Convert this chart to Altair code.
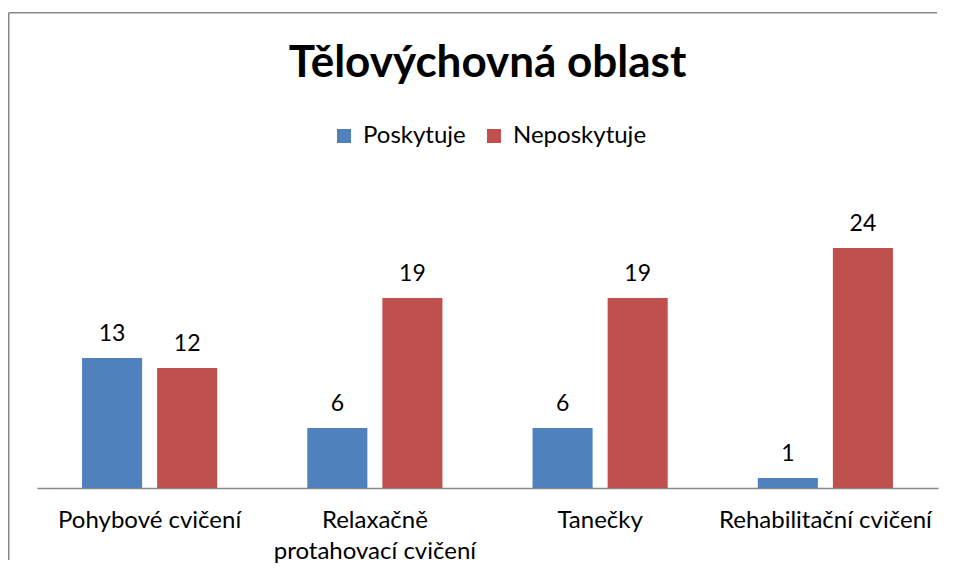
import altair as alt
import pandas as pd

categories = ["Pohybové cvičení", "Relaxačně protahovací cvičení", "Tanečky", "Rehabilitační cvičení"]
series = ["Poskytuje", "Neposkytuje"]
poskytuje = [13, 6, 6, 1]
neposkytuje = [12, 19, 19, 24]
colors = ["#4F81BD", "#C0504D"]

rows = []
for i, c in enumerate(categories):
    rows.append({"kat": c, "serie": series[0], "hodnota": poskytuje[i]})
    rows.append({"kat": c, "serie": series[1], "hodnota": neposkytuje[i]})
df = pd.DataFrame(rows)

FONT = "Lato"

x = alt.X(
    "kat:N",
    sort=categories,
    scale=alt.Scale(paddingInner=0, paddingOuter=0),
    axis=alt.Axis(
        title=None,
        labelAngle=0,
        labelFontSize=24,
        labelFont=FONT,
        labelColor="#000000",
        labelPadding=20,
        labelLineHeight=31,
        labelBaseline="top",
        labelLimit=400,
        ticks=False,
        grid=False,
        domainColor="#868686",
        domainWidth=1.5,
        labelExpr="datum.label == 'Relaxačně protahovací cvičení' ? ['Relaxačně', 'protahovací cvičení'] : datum.label",
    ),
)
xo = alt.XOffset(
    "serie:N",
    sort=series,
    scale=alt.Scale(paddingInner=0.2, paddingOuter=0.6),
)
y = alt.Y("hodnota:Q", scale=alt.Scale(domain=[0, 24], nice=False), axis=None)

bars = alt.Chart(df).mark_bar().encode(
    x=x,
    xOffset=xo,
    y=y,
    color=alt.Color(
        "serie:N",
        sort=series,
        scale=alt.Scale(domain=series, range=colors),
        legend=alt.Legend(
            title=None,
            orient="none",
            direction="horizontal",
            legendX=295,
            legendY=-124,
            symbolType="square",
            symbolSize=196,
            symbolStrokeWidth=0,
            labelFontSize=24,
            labelFont=FONT,
            labelColor="#000000",
            labelOffset=7,
            columnPadding=16,
        ),
    ),
)

labels = alt.Chart(df).mark_text(
    fontSize=23, font=FONT, color="#000000", baseline="alphabetic", dy=-17
).encode(x=x, xOffset=xo, y=y, text="hodnota:Q")

one = pd.DataFrame({"k": [0]})
frame_top = alt.Chart(one).mark_rule(
    color="#868686", strokeWidth=1.5, clip=False
).encode(x=alt.value(-28.25), x2=alt.value(900), y=alt.value(-235.25))
frame_left = alt.Chart(one).mark_rule(
    color="#868686", strokeWidth=1.5, clip=False
).encode(x=alt.value(-28.25), y=alt.value(-235.25), y2=alt.value(312))

chart = (
    alt.layer(frame_top, frame_left, bars, labels)
    .properties(
        width=901,
        height=240,
        autosize=alt.AutoSizeParams(type="none"),
        padding={"left": 29, "top": 240, "right": 10, "bottom": 78},
        title=alt.TitleParams(
            "Tělovýchovná oblast",
            fontSize=44,
            font=FONT,
            fontWeight="bold",
            color="#000000",
            anchor="middle",
            offset=0,
            dy=74,
        ),
    )
    .configure_view(stroke=None)
)

chart.save("out.html", embed_options={"renderer": "svg", "actions": False})
